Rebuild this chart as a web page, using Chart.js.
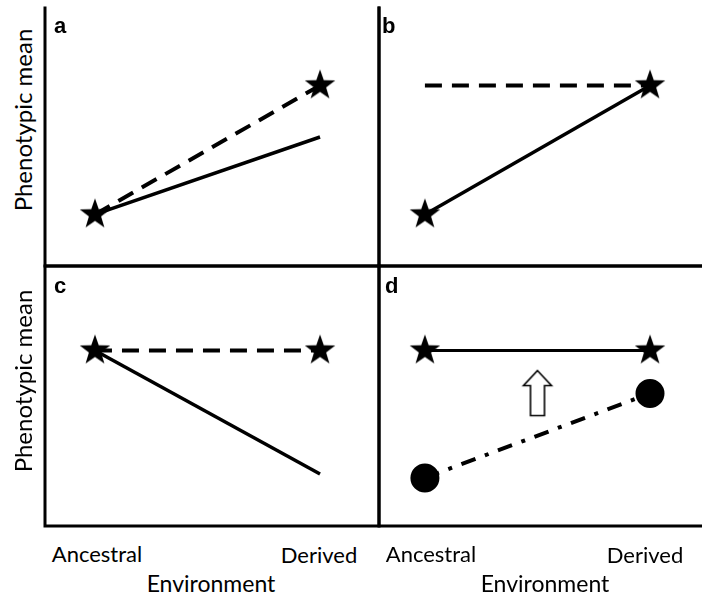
<!DOCTYPE html>
<html>
<head>
<meta charset="utf-8">
<script src="https://cdn.jsdelivr.net/npm/chart.js@4.4.1/dist/chart.umd.min.js"></script>
<style>
  html, body { margin: 0; padding: 0; background: #fff; }
  #wrap { position: relative; width: 702px; height: 598px; overflow: hidden; background: #fff; }
  canvas { position: absolute; }
  .lbl { position: absolute; font-family: Lato, "Open Sans", sans-serif; font-size: 23px; line-height: 28px; color: #000; white-space: nowrap; }
  .tick { font-size: 22px; }
  .ctr { transform: translateX(-50%); }
  .ylab { position: absolute; font-family: Lato, "Open Sans", sans-serif; font-size: 24px; line-height: 28px; color: #000; white-space: nowrap; width: 220px; text-align: center; transform: rotate(-90deg); }
  .pl { position: absolute; font-family: "Liberation Sans", Arial, sans-serif; font-weight: bold; font-size: 22px; line-height: 25px; color: #000; }
</style>
</head>
<body>
<div id="wrap">
  <canvas id="ca" width="342" height="266" style="left:41px;top:4px"></canvas>
  <canvas id="cb" width="331" height="266" style="left:375px;top:4px"></canvas>
  <canvas id="cc" width="342" height="268" style="left:41px;top:262px"></canvas>
  <canvas id="cd" width="331" height="268" style="left:375px;top:262px"></canvas>
</div>
<script>
// ---- data ----
const environments = ['Ancestral', 'Derived'];
const panelLetters = ['a', 'b', 'c', 'd'];
const yAxisTitle = 'Phenotypic mean';
const xAxisTitle = 'Environment';

// panel a
const aDashed = [2.0, 7.0];
const aSolid  = [2.0, 5.0];
// panel b
const bDashed = [7.0, 7.0];
const bSolid  = [2.0, 7.0];
// panel c
const cDashed = [6.75, 6.75];
const cSolid  = [6.75, 2.0];
// panel d
const dSolid   = [6.75, 6.75];
const dDashDot = [1.85, 5.1];

// ---- marker images ----
function makeStar(R) {
  const c = document.createElement('canvas');
  const s = Math.ceil(R * 2 + 4);
  c.width = s; c.height = s;
  const g = c.getContext('2d');
  const cx = s / 2, cy = s / 2, r = R * 0.4;
  g.beginPath();
  for (let i = 0; i < 10; i++) {
    const rad = i % 2 === 0 ? R : r;
    const ang = -Math.PI / 2 + i * Math.PI / 5;
    const px = cx + rad * Math.cos(ang), py = cy + rad * Math.sin(ang);
    if (i === 0) g.moveTo(px, py); else g.lineTo(px, py);
  }
  g.closePath();
  g.fillStyle = '#000';
  g.fill();
  return c;
}
function makeArrow() {
  const c = document.createElement('canvas');
  c.width = 34; c.height = 50;
  const g = c.getContext('2d');
  const cx = 17, cy = 25;
  const pts = [[0,-22.5],[14,-7.5],[7,-7.5],[7,22.5],[-7,22.5],[-7,-7.5],[-14,-7.5]];
  g.beginPath();
  pts.forEach((p, i) => { if (i === 0) g.moveTo(cx + p[0], cy + p[1]); else g.lineTo(cx + p[0], cy + p[1]); });
  g.closePath();
  g.fillStyle = '#fff';
  g.fill();
  g.lineWidth = 1.6;
  g.strokeStyle = '#000';
  g.lineJoin = 'miter';
  g.stroke();
  return c;
}
const star = makeStar(16);
const arrow = makeArrow();

const toPts = vals => vals.map((v, i) => ({ x: i, y: v }));

// frame plugin: draws the panel borders on chart area edges
const framePlugin = {
  id: 'frame',
  afterDatasetsDraw(chart, args, opts) {
    const { ctx, chartArea: a } = chart;
    ctx.save();
    ctx.strokeStyle = '#000';
    ctx.lineWidth = 3;
    ctx.lineCap = 'square';
    const sides = opts.sides || [];
    ctx.beginPath();
    if (sides.includes('left'))   { ctx.moveTo(a.left, a.top);  ctx.lineTo(a.left, a.bottom); }
    if (sides.includes('right'))  { ctx.moveTo(a.right, a.top); ctx.lineTo(a.right, a.bottom); }
    if (sides.includes('top'))    { ctx.moveTo(a.left, a.top);  ctx.lineTo(a.right, a.top); }
    if (sides.includes('bottom')) { ctx.moveTo(a.left, a.bottom); ctx.lineTo(a.right, a.bottom); }
    ctx.stroke();
    ctx.restore();
  }
};

function lineDs(vals, opt) {
  return Object.assign({
    data: toPts(vals),
    borderColor: '#000',
    backgroundColor: '#000',
    borderWidth: 3.5,
    pointRadius: 0,
    pointStyle: star,
    tension: 0,
    clip: false,
    fill: false
  }, opt);
}

function makeChart(id, datasets, xMin, xMax, sides) {
  return new Chart(document.getElementById(id), {
    type: 'line',
    data: { datasets },
    options: {
      responsive: false,
      animation: false,
      events: [],
      layout: { padding: 4, autoPadding: false },
      plugins: { legend: { display: false }, tooltip: { enabled: false }, frame: { sides } },
      scales: {
        x: { type: 'linear', display: false, min: xMin, max: xMax },
        y: { type: 'linear', display: false, min: 0, max: 10 }
      }
    },
    plugins: [framePlugin]
  });
}

const DASH = [17, 10];
const DASHDOT = [15, 10, 4, 10];

// panel a
makeChart('ca', [
  lineDs(aDashed, { borderDash: DASH, borderWidth: 4, pointRadius: 16 }),
  lineDs(aSolid, {})
], -0.222, 1.262, ['left', 'right', 'bottom']);

// panel b
makeChart('cb', [
  lineDs(bDashed, { borderDash: DASH, borderWidth: 4 }),
  lineDs(bSolid, { pointRadius: 16 })
], -0.204, 1.231, ['left', 'bottom']);

// panel c
makeChart('cc', [
  lineDs(cDashed, { borderDash: DASH, borderWidth: 4, pointRadius: 16 }),
  lineDs(cSolid, {})
], -0.222, 1.262, ['left', 'right', 'top', 'bottom']);

// panel d: arrow sits midway between the two reaction norms at the middle of the x range
const midX = (environments.length - 1) / 2;
const mean = a => a.reduce((s, v) => s + v, 0) / a.length;
const arrowY = (mean(dSolid) + mean(dDashDot)) / 2;
makeChart('cd', [
  { data: [{ x: midX, y: arrowY }], showLine: false, pointStyle: arrow, pointRadius: 20, borderColor: '#000', backgroundColor: '#fff', clip: false },
  lineDs(dSolid, { borderWidth: 3, pointRadius: 16 }),
  lineDs(dDashDot, { borderDash: DASHDOT, borderWidth: 4, pointStyle: 'circle', pointRadius: 12.5 })
], -0.204, 1.231, ['left', 'top', 'bottom']);

// ---- text ----
const wrap = document.getElementById('wrap');
function addDiv(cls, text, css) {
  const d = document.createElement('div');
  d.className = cls;
  d.textContent = text;
  Object.assign(d.style, css);
  wrap.appendChild(d);
  return d;
}
// panel letters
addDiv('pl', panelLetters[0], { left: '54px', top: '13px' });
addDiv('pl', panelLetters[1], { left: '382px', top: '13px' });
addDiv('pl', panelLetters[2], { left: '54px', top: '273px' });
addDiv('pl', panelLetters[3], { left: '385px', top: '273px' });
// y axis titles
addDiv('ylab', yAxisTitle, { left: (23 - 110) + 'px', top: (120 - 14) + 'px' });
addDiv('ylab', yAxisTitle, { left: (23 - 110) + 'px', top: (381 - 14) + 'px' });
// x tick labels and titles
addDiv('lbl tick ctr', environments[0], { left: '97px', top: '540px' });
addDiv('lbl tick ctr', environments[1], { left: '319px', top: '541px' });
addDiv('lbl ctr', xAxisTitle, { left: '211px', top: '569px' });
addDiv('lbl tick ctr', environments[0], { left: '431px', top: '540px' });
addDiv('lbl tick ctr', environments[1], { left: '645px', top: '541px' });
addDiv('lbl ctr', xAxisTitle, { left: '545px', top: '569px' });
</script>
</body>
</html>
